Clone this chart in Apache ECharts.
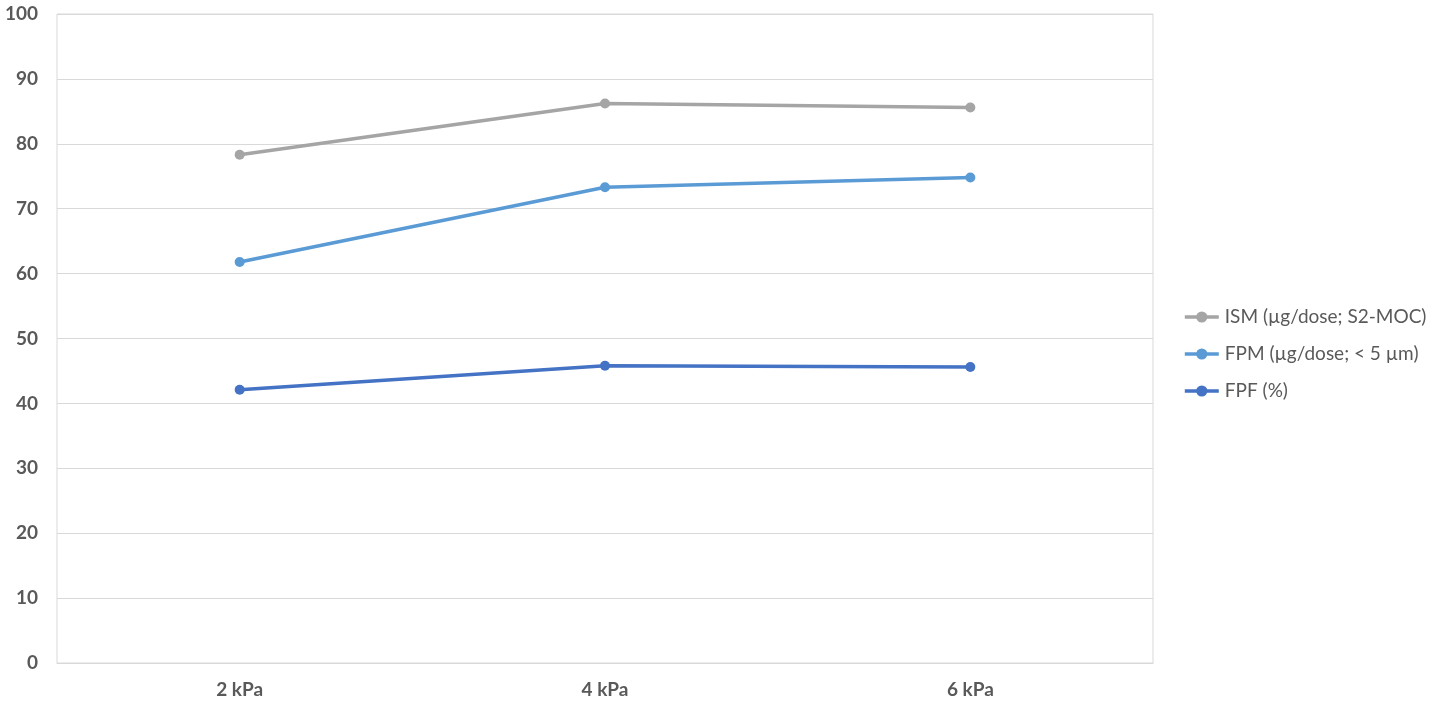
<!DOCTYPE html>
<html><head><meta charset="utf-8">
<script src="https://cdn.jsdelivr.net/npm/echarts@6/dist/echarts.min.js"></script>
<style>html,body{margin:0;padding:0;background:#fff}#c{width:1430px;height:704px}</style>
</head><body><div id="c"></div>
<script>
const categories = ['2 kPa', '4 kPa', '6 kPa'];
const ismValues = [78.3, 86.2, 85.6];
const fpmValues = [61.8, 73.3, 74.8];
const fpfValues = [42.1, 45.8, 45.6];
const seriesNames = ['ISM (µg/dose; S2-MOC)', 'FPM (µg/dose; < 5 µm)', 'FPF (%)'];
const colors = ['#A5A5A5', '#5B9BD5', '#4472C4'];
const font = 'Lato, "Open Sans", sans-serif';

const chart = echarts.init(document.getElementById('c'), null, {renderer: 'canvas'});
function mk(name, data, color) {
  return {
    name, type: 'line', data, color,
    symbol: 'circle', symbolSize: 10,
    lineStyle: {width: 3.6, color},
    itemStyle: {color},
    emphasis: {disabled: true}
  };
}
chart.setOption({
  animation: false,
  textStyle: {fontFamily: font},
  grid: {left: 57, right: 277, top: 14, bottom: 41, show: true, borderColor: '#D9D9D9', borderWidth: 1},
  legend: {
    orient: 'vertical', left: 1178, top: 302, itemGap: 17,
    itemWidth: 34, itemHeight: 14,
    lineStyle: {width: 3.6},
    textStyle: {fontFamily: font, fontSize: 19, lineHeight: 20, color: '#595959', padding: [0, 0, 0, 1]},
    data: seriesNames
  },
  xAxis: {
    type: 'category', data: categories, boundaryGap: true,
    axisLine: {show: true, lineStyle: {color: '#D9D9D9'}},
    axisTick: {show: false},
    axisLabel: {fontFamily: font, fontSize: 19, fontWeight: 'bold', color: '#595959', margin: 17},
    splitLine: {show: false}
  },
  yAxis: {
    type: 'value', min: 0, max: 100, interval: 10,
    axisLine: {show: false}, axisTick: {show: false},
    axisLabel: {fontFamily: font, fontSize: 19, fontWeight: 'bold', color: '#595959', margin: 19},
    splitLine: {lineStyle: {color: '#D9D9D9', width: 1}}
  },
  series: [
    mk(seriesNames[0], ismValues, colors[0]),
    mk(seriesNames[1], fpmValues, colors[1]),
    mk(seriesNames[2], fpfValues, colors[2])
  ]
});
</script></body></html>
